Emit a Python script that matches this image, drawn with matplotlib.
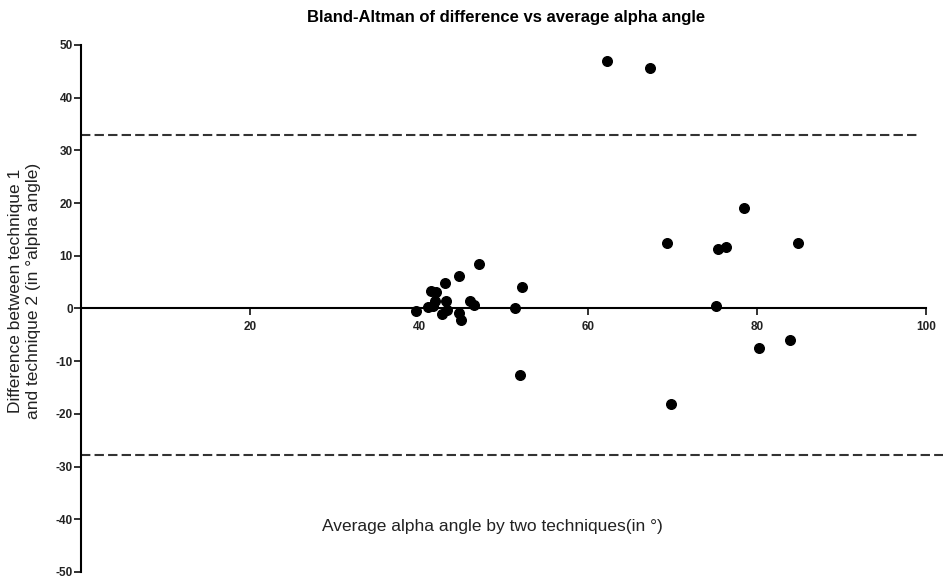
import matplotlib
matplotlib.use('Agg')
import matplotlib.pyplot as plt

plt.rcParams['font.family'] = ['Liberation Sans', 'DejaVu Sans']
plt.rcParams['axes.unicode_minus'] = False

# Average of the two techniques (x) and their difference (y)
avg_angle = [62.3, 67.3, 78.5, 69.4, 75.4, 76.3, 84.8, 75.2, 80.2, 83.9, 69.8,
             39.6, 41.1, 41.4, 42.0, 43.1, 44.7, 47.1, 43.2, 41.9, 41.7, 42.7,
             43.3, 44.7, 45.0, 46.0, 46.5, 51.4, 52.2, 51.9]
diff_angle = [46.9, 45.7, 19.1, 12.4, 11.2, 11.6, 12.5, 0.5, -7.5, -5.9, -18.2,
              -0.5, 0.3, 3.3, 3.2, 4.9, 6.1, 8.5, 1.5, 1.4, 0.4, -1.1,
              -0.2, -0.8, -2.1, 1.5, 0.6, 0.0, 4.0, -12.7]

upper_loa = 33.0
lower_loa = -27.8

x_ticks = [20, 40, 60, 80, 100]
y_ticks = [-50, -40, -30, -20, -10, 0, 10, 20, 30, 40, 50]

fig = plt.figure(figsize=(9.43, 5.79), dpi=100)
ax = fig.add_axes([0.0859, 0.0121, 0.8961, 0.9102])

ax.scatter(avg_angle, diff_angle, s=48, color='black', zorder=3)

# limits of agreement
ax.plot([0, 99], [upper_loa, upper_loa], color='#333333', lw=1.5,
        linestyle=(0, (4.5, 2)))
ax.plot([0, 102], [lower_loa, lower_loa], color='#333333', lw=1.5,
        linestyle=(0, (4.5, 2)), clip_on=False)

ax.set_xlim(0, 100)
ax.set_ylim(-50, 50)

ax.spines['top'].set_visible(False)
ax.spines['right'].set_visible(False)
ax.spines['bottom'].set_position(('data', 0))
ax.spines['bottom'].set_linewidth(1.5)
ax.spines['left'].set_linewidth(1.5)

ax.set_xticks(x_ticks)
ax.set_yticks(y_ticks)
ax.tick_params(axis='both', direction='out', length=5, width=1.3,
               labelsize=8.5, colors='#222222')
ax.tick_params(axis='x', pad=4)
ax.tick_params(axis='y', pad=1)
for lab in ax.get_xticklabels() + ax.get_yticklabels():
    lab.set_fontweight('bold')

fig.text(0.537, 0.969, 'Bland-Altman of difference vs average alpha angle',
         ha='center', va='center', fontsize=12, fontweight='bold')
fig.text(0.522, 0.09, 'Average alpha angle by two techniques(in \u00b0)',
         ha='center', va='center', fontsize=12.5, color='#222222')
fig.text(0.026, 0.497, 'Difference between technique 1\nand technique 2 (in \u00b0alpha angle)',
         ha='center', va='center', rotation=90, fontsize=12.5, color='#222222',
         linespacing=1.2)

fig.savefig('out.png', dpi=100)
